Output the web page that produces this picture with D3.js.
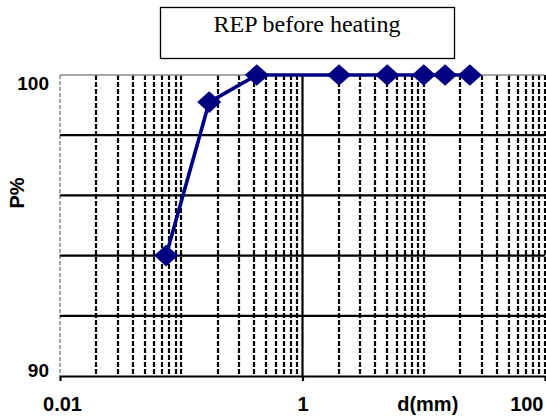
<!DOCTYPE html>
<html>
<head>
<meta charset="utf-8">
<script src="https://cdn.jsdelivr.net/npm/d3@7/dist/d3.min.js"></script>
<style>
  html, body { margin: 0; padding: 0; background: #fff; }
  svg { display: block; }
</style>
</head>
<body>
<svg id="chart" width="546" height="418"></svg>
<script>
// Particle size distribution: passing percentage vs sieve size
const sizes = [0.075, 0.17, 0.42, 2, 5, 10, 15, 24];        // d (mm)
const passing = [94, 99.1, 100, 100, 100, 100, 100, 100];   // P %
const xTickLabels = [0.01, 1, 100];
const yTickLabels = [90, 100];
const titleText = "REP before heating";
const xTitle = "d(mm)";
const yTitle = "P%";

const W = 546, H = 418;
const plot = { left: 60, right: 545, top: 75, bottom: 376 };

const svg = d3.select("#chart");
svg.append("rect").attr("width", W).attr("height", H).attr("fill", "#fff");

const x = d3.scaleLog().domain([0.01, 100]).range([plot.left, plot.right]);
const y = d3.scaleLinear().domain([90, 100]).range([plot.bottom, plot.top]);

const grid = svg.append("g");

// vertical dashed gridlines at every 1..9 x 10^k
const vTicks = x.ticks();
grid.selectAll("line.vminor")
  .data(vTicks.filter(v => Math.abs(Math.log10(v)) > 1e-9 && v > 0.0100001))
  .join("line")
  .attr("class", "vminor")
  .attr("x1", d => Math.round(x(d))).attr("x2", d => Math.round(x(d)))
  .attr("y1", y(100)).attr("y2", y(90))
  .attr("stroke", "#000")
  .attr("stroke-width", 2.2)
  .attr("stroke-dasharray", "5,2");

// left boundary (grey dashed)
grid.append("line")
  .attr("x1", x(0.01)).attr("x2", x(0.01))
  .attr("y1", y(100)).attr("y2", y(90))
  .attr("stroke", "#777")
  .attr("stroke-width", 1.3)
  .attr("stroke-dasharray", "4,2");

// top border (grey)
grid.append("line")
  .attr("x1", x(0.01)).attr("x2", x(100))
  .attr("y1", y(100)).attr("y2", y(100))
  .attr("stroke", "#888")
  .attr("stroke-width", 1.3);

// horizontal solid gridlines
grid.selectAll("line.h")
  .data(y.ticks(5).filter(v => v > 90 && v < 100))
  .join("line")
  .attr("class", "h")
  .attr("x1", x(0.01)).attr("x2", x(100))
  .attr("y1", d => y(d)).attr("y2", d => y(d))
  .attr("stroke", "#000")
  .attr("stroke-width", 2.2);

// solid major gridline at d = 1
grid.append("line")
  .attr("x1", x(1)).attr("x2", x(1))
  .attr("y1", y(100)).attr("y2", y(90))
  .attr("stroke", "#000")
  .attr("stroke-width", 2.2);

// x axis
const xAxis = svg.append("g")
  .attr("transform", `translate(0,${plot.bottom})`)
  .call(d3.axisBottom(x)
    .tickValues(xTickLabels)
    .tickFormat(d3.format("~g"))
    .tickSizeInner(5).tickSizeOuter(0)
    .tickPadding(16));
xAxis.select(".domain").attr("stroke", "#000").attr("stroke-width", 2.2);
xAxis.selectAll(".tick line").attr("stroke", "#000").attr("stroke-width", 2.2);
xAxis.selectAll("text")
  .attr("font-family", "'Liberation Sans', Arial, sans-serif")
  .attr("font-weight", "bold")
  .attr("font-size", 20)
  .attr("fill", "#000");
xAxis.selectAll(".tick text").filter(d => d === 100)
  .attr("text-anchor", "end").attr("x", -2);
xAxis.selectAll(".tick text").filter(d => d === 0.01)
  .attr("x", 2);

// y axis labels
const yAxis = svg.append("g")
  .attr("transform", `translate(${plot.left},0)`)
  .call(d3.axisLeft(y)
    .tickValues(yTickLabels)
    .tickSize(0)
    .tickPadding(11));
yAxis.select(".domain").remove();
yAxis.selectAll("text")
  .attr("font-family", "'Liberation Sans', Arial, sans-serif")
  .attr("font-weight", "bold")
  .attr("font-size", 19)
  .attr("fill", "#000");
yAxis.selectAll(".tick text").filter(d => d === 100).attr("dy", "0.75em");
yAxis.selectAll(".tick text").filter(d => d === 90).attr("dy", "0.02em");

// axis titles
svg.append("text")
  .attr("x", x(10) + 4).attr("y", 411)
  .attr("text-anchor", "middle")
  .attr("font-family", "'Liberation Sans', Arial, sans-serif")
  .attr("font-weight", "bold").attr("font-size", 20)
  .text(xTitle);

svg.append("text")
  .attr("transform", "translate(24,193) rotate(-90)")
  .attr("text-anchor", "middle")
  .attr("font-family", "'Liberation Sans', Arial, sans-serif")
  .attr("font-weight", "bold").attr("font-size", 20)
  .text(yTitle);

// data series
const pts = sizes.map((d, i) => ({ d, p: passing[i] }));
const navy = "#000080";

svg.append("path")
  .datum(pts)
  .attr("fill", "none")
  .attr("stroke", navy)
  .attr("stroke-width", 3.6)
  .attr("stroke-linejoin", "round")
  .attr("d", d3.line().x(v => x(v.d)).y(v => y(v.p)));

// wide diamond marker
const wideDiamond = {
  draw(ctx, size) {
    const hw = Math.sqrt(size) / 2, hh = hw * 0.9;
    ctx.moveTo(0, -hh); ctx.lineTo(hw, 0); ctx.lineTo(0, hh); ctx.lineTo(-hw, 0); ctx.closePath();
  }
};
svg.selectAll("path.mark")
  .data(pts)
  .join("path")
  .attr("class", "mark")
  .attr("transform", v => `translate(${x(v.d)},${y(v.p)})`)
  .attr("fill", navy)
  .attr("d", d3.symbol().type(wideDiamond).size(24 * 24));

// title box
svg.append("rect")
  .attr("x", 160.5).attr("y", 7.5).attr("width", 294).attr("height", 51)
  .attr("fill", "#fff").attr("stroke", "#000").attr("stroke-width", 1.3);
svg.append("text")
  .attr("x", 307).attr("y", 32)
  .attr("text-anchor", "middle")
  .attr("font-family", "'Liberation Serif', 'Times New Roman', serif")
  .attr("font-size", 24)
  .attr("fill", "#000")
  .text(titleText);
</script>
</body>
</html>
